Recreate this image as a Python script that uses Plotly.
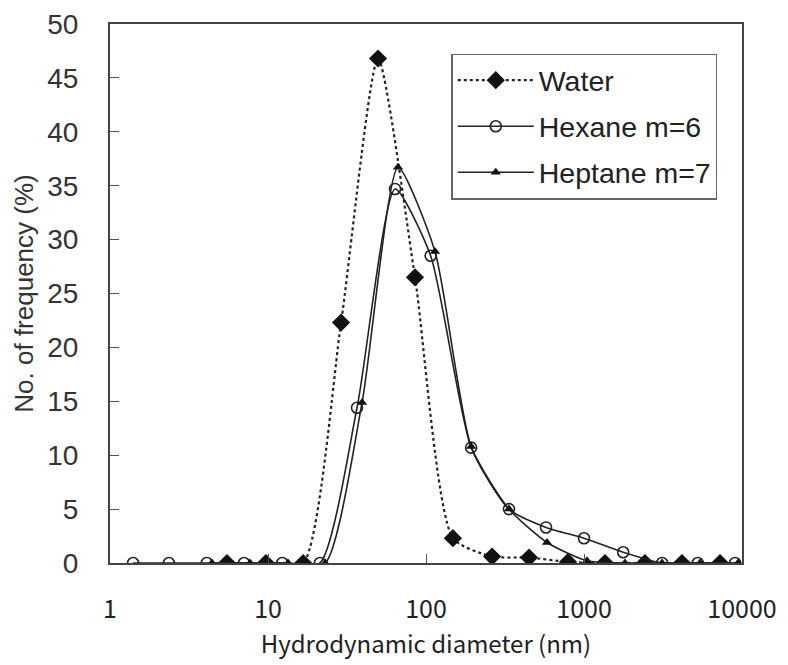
import plotly.graph_objects as go

# Water (diamonds, dotted)
water_x = [5.5, 9.7, 16.7, 29, 49.7, 85.2, 148, 262, 449, 792, 1358, 2430, 4170, 7260]
water_y = [0, 0, 0, 22.3, 46.8, 26.5, 2.3, 0.6, 0.5, 0.1, 0, 0, 0, 0]

# Hexane m=6 (open circles)
hexane_x = [1.4, 2.36, 4.1, 7.05, 12.3, 21.3, 36.6, 63.7, 107, 193, 335, 575, 1000, 1770, 3120, 5250, 9040]
hexane_y = [0, 0, 0, 0, 0, 0, 14.4, 34.7, 28.5, 10.7, 5.0, 3.3, 2.3, 1.0, 0, 0, 0]

# Heptane m=7 (triangles)
heptane_x = [4.42, 7.7, 13.4, 23, 39.4, 66.5, 114, 193, 335, 583, 1045, 1816, 3120, 5420, 9440]
heptane_y = [0, 0, 0, 0, 14.9, 36.7, 28.9, 10.8, 5.0, 1.9, 0.2, 0, 0, 0, 0]

x_ticks = [1, 10, 100, 1000, 10000]
x_tick_labels = ["1", "10", "100", "1000", "10000"]
y_ticks = [0, 5, 10, 15, 20, 25, 30, 35, 40, 45, 50]

fig = go.Figure()
fig.add_trace(go.Scatter(
    x=water_x, y=water_y, name="Water", mode="lines+markers",
    line=dict(color="#222", width=2.2, dash="dot", shape="spline", smoothing=0.6),
    marker=dict(symbol="diamond", size=14, color="#111"),
    legendgroup="a"))
fig.add_trace(go.Scatter(
    x=hexane_x, y=hexane_y, name="Hexane m=6", mode="lines+markers",
    line=dict(color="#222", width=1.6, shape="spline", smoothing=0.6),
    marker=dict(symbol="circle-open", size=11, color="#222", line=dict(width=1.6)),
    legendgroup="b"))
fig.add_trace(go.Scatter(
    x=heptane_x, y=heptane_y, name="Heptane m=7", mode="lines+markers",
    line=dict(color="#222", width=1.6, shape="spline", smoothing=0.6),
    marker=dict(symbol="triangle-up", size=9, color="#111"),
    legendgroup="c"))

fig.update_layout(
    width=780, height=657,
    margin=dict(l=102, r=46, t=16, b=102),
    paper_bgcolor="white", plot_bgcolor="white",
    font=dict(family="Liberation Sans, Arial, sans-serif", color="#333", size=20),
    showlegend=True,
    legend=dict(
        x=0.54, y=0.945, xanchor="left", yanchor="top",
        bgcolor="white", bordercolor="#666", borderwidth=1.5,
        font=dict(size=28.5, color="#222"),
        tracegroupgap=6, itemwidth=76,
    ),
    xaxis=dict(
        type="log", range=[0, 4], automargin=False,
        tickvals=x_ticks, ticktext=x_tick_labels,
        ticks="inside", ticklen=9, tickcolor="#555",
        showline=True, linecolor="#444", linewidth=2, mirror=True,
        showgrid=False, zeroline=False,
        tickfont=dict(family="Noto Sans CJK JP, sans-serif", size=25, color="#222"),
        ticklabelstandoff=23,
        title=dict(text="Hydrodynamic diameter (nm)",
                   font=dict(family="Noto Sans CJK JP, sans-serif", size=24, color="#222"),
                   standoff=9),
    ),
    yaxis=dict(
        range=[0, 50], tickvals=y_ticks, automargin=False,
        ticks="inside", ticklen=9, tickcolor="#555",
        showline=True, linecolor="#444", linewidth=2, mirror=True,
        showgrid=False, zeroline=False,
        tickfont=dict(size=28, color="#333"),
        ticklabelstandoff=24,
        title=dict(text="No. of frequency (%)", font=dict(size=26, color="#333"), standoff=6),
    ),
)

fig.write_html("out.html")
